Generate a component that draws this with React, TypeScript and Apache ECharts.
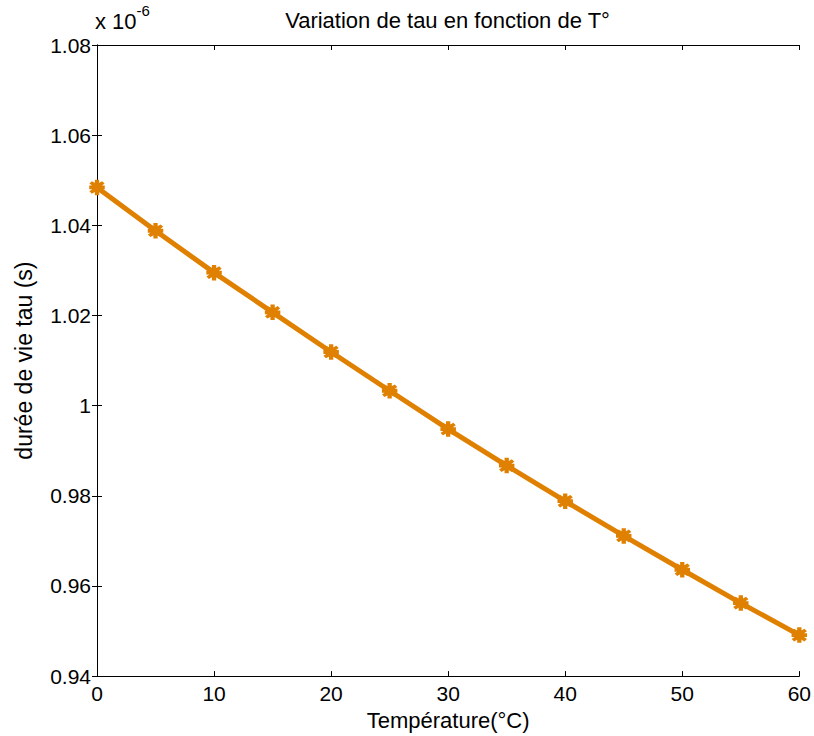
import React, { useEffect, useRef } from "react";
import * as echarts from "echarts";

// Temperature (°C) and carrier lifetime tau (in units of 1e-6 s)
const temperatures = [0, 5, 10, 15, 20, 25, 30, 35, 40, 45, 50, 55, 60];
const tauValues = [
  1.0484, 1.0388, 1.0295, 1.0207, 1.0119, 1.0033, 0.9948, 0.9867, 0.9788,
  0.9711, 0.9636, 0.9562, 0.9491,
];
const yMin = 0.94;
const yMax = 1.08;
const yStep = 0.02;
const xMin = 0;
const xMax = 60;
const xStep = 10;

const titleText = "Variation de tau en fonction de T°";
const xLabel = "Température(°C)";
const yLabel = "durée de vie tau (s)";

const FONT = "'Liberation Sans', Arial, sans-serif";
const LINE_COLOR = "#E08000";

// plus sign merged with a star: the marker drawn at every sample
const MARKER =
  "path://M4,0 L6,0 L6,3.2 L8.6,1.4 L9.6,2.6 L6.8,5 L10,5 L10,5 L10,5 L10,7 L6.8,7 L9.6,9.4 L8.6,10.6 L6,8.8 L6,12 L4,12 L4,8.8 L1.4,10.6 L0.4,9.4 L3.2,7 L0,7 L0,5 L3.2,5 L0.4,2.6 L1.4,1.4 L4,3.2 Z";

export default function App() {
  const ref = useRef<HTMLDivElement>(null);

  useEffect(() => {
    if (!ref.current) return;
    const chart = echarts.init(ref.current, undefined, { renderer: "svg" });

    const gridLeft = 97;
    const gridTop = 45;
    const gridRight = 14;
    const gridBottom = 56;

    const axisLine = { show: true, lineStyle: { color: "#000", width: 1 } };
    const tickStyle = { show: true, inside: true, length: 5, lineStyle: { color: "#000", width: 1 } };

    const fmtY = (v: number) => String(parseFloat(v.toFixed(2)));

    chart.setOption({
      animation: false,
      backgroundColor: "#fff",
      title: {
        text: titleText,
        left: gridLeft + (814 - gridLeft - gridRight) / 2 - 6,
        textAlign: "center",
        top: 4,
        textStyle: { fontFamily: FONT, fontSize: 22, fontWeight: "normal", color: "#000" },
      },
      graphic: [
        {
          type: "text",
          left: 95,
          top: 3,
          style: {
            text: "{b|x 10}{s|-6}",
            rich: {
              b: { fontFamily: FONT, fontSize: 22, fill: "#000", padding: [14, 0, 0, 0] },
              s: { fontFamily: FONT, fontSize: 15, fill: "#000", padding: [0, 0, 8, 0] },
            },
          },
        },
      ],
      grid: {
        left: gridLeft,
        right: gridRight,
        top: gridTop,
        bottom: gridBottom,
        containLabel: false,
      },
      xAxis: [
        {
          type: "value",
          min: xMin,
          max: xMax,
          interval: xStep,
          position: "bottom",
          axisLine,
          axisTick: tickStyle,
          splitLine: { show: false },
          axisLabel: { fontFamily: FONT, fontSize: 21, color: "#000", margin: 7 },
          name: xLabel,
          nameLocation: "middle",
          nameGap: 28,
          nameTextStyle: { fontFamily: FONT, fontSize: 22, color: "#000" },
        },
        {
          type: "value",
          min: xMin,
          max: xMax,
          interval: xStep,
          position: "top",
          axisLine,
          axisTick: tickStyle,
          splitLine: { show: false },
          axisLabel: { show: false },
        },
      ],
      yAxis: [
        {
          type: "value",
          min: yMin,
          max: yMax,
          interval: yStep,
          position: "left",
          axisLine,
          axisTick: tickStyle,
          splitLine: { show: false },
          axisLabel: {
            fontFamily: FONT,
            fontSize: 21,
            color: "#000",
            margin: 6,
            formatter: fmtY,
          },
          name: yLabel,
          nameLocation: "middle",
          nameGap: 62,
          nameRotate: 90,
          nameTextStyle: { fontFamily: FONT, fontSize: 23, color: "#000" },
        },
        {
          type: "value",
          min: yMin,
          max: yMax,
          interval: yStep,
          position: "right",
          axisLine,
          axisTick: tickStyle,
          splitLine: { show: false },
          axisLabel: { show: false },
        },
      ],
      series: [
        {
          type: "line",
          xAxisIndex: 0,
          yAxisIndex: 0,
          data: temperatures.map((t, i) => [t, tauValues[i]]),
          lineStyle: { color: LINE_COLOR, width: 5 },
          itemStyle: { color: LINE_COLOR, borderColor: LINE_COLOR, borderWidth: 1.5 },
          symbol: MARKER,
          symbolSize: 14,
          showSymbol: true,
          clip: false,
        },
      ],
    });

    return () => chart.dispose();
  }, []);

  return (
    <div
      ref={ref}
      style={{ position: "fixed", left: 0, top: 0, width: 814, height: 736, background: "#fff" }}
    />
  );
}
